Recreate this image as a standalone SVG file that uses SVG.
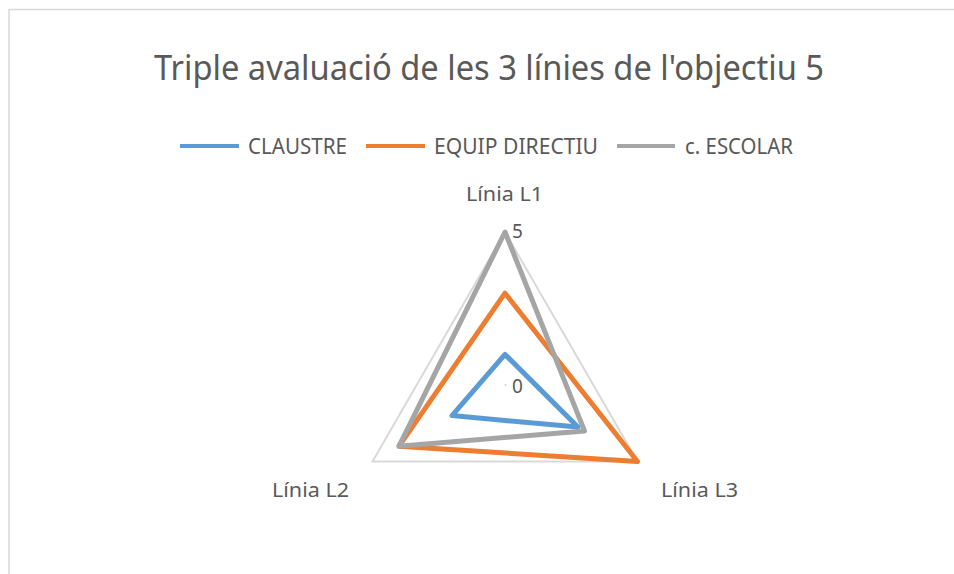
<svg xmlns="http://www.w3.org/2000/svg" width="954" height="574" viewBox="0 0 954 574">
  <style>
    text { font-family: "Noto Sans", "Open Sans", "Liberation Sans", sans-serif; fill: #595959; }
    .title { font-size: 35px; }
    .leg { font-size: 21px; }
    .cat { font-size: 20px; }
    .val { font-size: 19px; }
    .series { fill: none; stroke-width: 5; stroke-linejoin: round; stroke-linecap: round; }
    .legline { stroke-width: 4; }
  </style>
  <rect x="0" y="0" width="954" height="574" fill="#ffffff"/>
  <rect id="frame" x="9" y="9.5" width="1000" height="1000" fill="#ffffff" stroke="#d9d9d9" stroke-width="1.5"/>

  <g id="title">
    <text class="title" x="154" y="80" textLength="670" lengthAdjust="spacingAndGlyphs">Triple avaluació de les 3 línies de l'objectiu 5</text>
  </g>

  <g id="legend">
    <g id="legend-claustre">
      <line class="legline" x1="180" y1="146" x2="239" y2="146" stroke="#5b9bd5"/>
      <text class="leg" x="248" y="154" textLength="99" lengthAdjust="spacingAndGlyphs">CLAUSTRE</text>
    </g>
    <g id="legend-equip">
      <line class="legline" x1="366" y1="146" x2="425" y2="146" stroke="#ed7d31"/>
      <text class="leg" x="434" y="154" textLength="164" lengthAdjust="spacingAndGlyphs">EQUIP DIRECTIU</text>
    </g>
    <g id="legend-escolar">
      <line class="legline" x1="617" y1="146" x2="675" y2="146" stroke="#a5a5a5"/>
      <text class="leg" x="685" y="154" textLength="108" lengthAdjust="spacingAndGlyphs">c. ESCOLAR</text>
    </g>
  </g>

  <g id="grid">
    <polygon points="505,232 637.5,461.5 372.5,461.5" fill="none" stroke="#d9d9d9" stroke-width="2"/>
    <circle cx="505.5" cy="385" r="1" fill="#d0d0d0"/>
  </g>

  <g id="axis-labels">
    <text class="cat" x="466" y="201" textLength="77" lengthAdjust="spacingAndGlyphs">Línia L1</text>
    <text class="cat" x="272" y="497" textLength="77" lengthAdjust="spacingAndGlyphs">Línia L2</text>
    <text class="cat" x="661" y="497" textLength="77" lengthAdjust="spacingAndGlyphs">Línia L3</text>
    <text class="val" x="512" y="238">5</text>
    <text class="val" x="512" y="393">0</text>
  </g>

  <g id="connectors">
    <polygon id="series-claustre" class="series" points="505,354.4 577.9,427.1 452,415.6" stroke="#5b9bd5"/>
    <polygon id="series-equip" class="series" points="505,293.2 637.5,461.5 399,446.2" stroke="#ed7d31"/>
    <polygon id="series-escolar" class="series" points="505,232 584.5,430.9 399,446.2" stroke="#a5a5a5"/>
  </g>
</svg>
